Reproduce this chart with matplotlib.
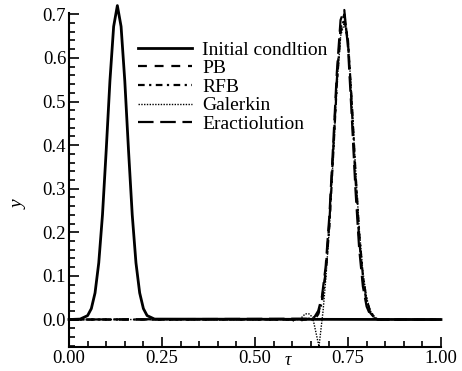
import matplotlib
matplotlib.use("Agg")
import matplotlib.pyplot as plt
from matplotlib.ticker import MultipleLocator, FormatStrFormatter

plt.rcParams['font.family'] = ['Liberation Serif', 'DejaVu Serif']

# initial condition (pulse at 0.13)
x_init = [0.0, 0.03, 0.05, 0.06, 0.07, 0.08, 0.09, 0.10, 0.11, 0.12, 0.13, 0.14,
          0.15, 0.16, 0.17, 0.18, 0.19, 0.20, 0.21, 0.23, 1.0]
y_init = [0.0, 0.001, 0.009, 0.025, 0.061, 0.130, 0.240, 0.388, 0.547, 0.672, 0.720, 0.672,
          0.547, 0.388, 0.240, 0.130, 0.061, 0.025, 0.009, 0.001, 0.0]

# exact solution (pulse moved to ~0.74)
x_exact = [0.0, 0.65, 0.66, 0.67, 0.68, 0.69, 0.70, 0.71, 0.72, 0.73, 0.74, 0.75,
           0.76, 0.77, 0.78, 0.79, 0.80, 0.81, 0.82, 0.83, 1.0]
y_exact = [0.0, 0.002, 0.006, 0.020, 0.053, 0.122, 0.239, 0.399, 0.567, 0.687, 0.710, 0.624,
           0.468, 0.299, 0.163, 0.076, 0.030, 0.010, 0.003, 0.0, 0.0]

# PB
x_pb = [0.0, 0.60, 0.61, 0.62, 0.63, 0.66, 0.67, 0.68, 0.69, 0.70, 0.71, 0.72, 0.73, 0.74,
        0.75, 0.76, 0.77, 0.78, 0.79, 0.80, 0.81, 0.82, 0.83, 1.0]
y_pb = [0.0, 0.0, -0.006, -0.004, 0.0, 0.004, 0.015, 0.045, 0.110, 0.225, 0.385, 0.550, 0.670, 0.700,
        0.635, 0.490, 0.325, 0.185, 0.090, 0.040, 0.015, 0.005, 0.0, 0.0]

# RFB
x_rfb = [0.0, 0.66, 0.67, 0.68, 0.69, 0.70, 0.71, 0.72, 0.73, 0.74, 0.75, 0.76,
         0.77, 0.78, 0.79, 0.80, 0.81, 0.82, 0.83, 1.0]
y_rfb = [0.0, 0.0, 0.012, 0.040, 0.105, 0.215, 0.375, 0.540, 0.660, 0.690, 0.640, 0.500,
         0.340, 0.200, 0.100, 0.045, 0.018, 0.006, 0.0, 0.0]

# Galerkin (with undershoot in front of the pulse)
x_gal = [0.0, 0.62, 0.635, 0.645, 0.655, 0.672, 0.683, 0.69, 0.70, 0.71, 0.72, 0.73, 0.74,
         0.75, 0.76, 0.77, 0.78, 0.79, 0.80, 0.81, 0.82, 0.83, 1.0]
y_gal = [0.0, 0.0, 0.013, 0.013, 0.005, -0.062, 0.02, 0.090, 0.210, 0.370, 0.530, 0.650, 0.680,
         0.640, 0.510, 0.350, 0.210, 0.110, 0.050, 0.020, 0.008, 0.0, 0.0]

fig = plt.figure(figsize=(4.62, 3.71), dpi=100)
ax = fig.add_axes([69 / 462, 1 - 347 / 371, 372 / 462, 334 / 371])

ax.plot(x_init, y_init, color='black', lw=2.0, ls='-', label='Initial condltion', clip_on=False)
ax.plot(x_pb, y_pb, color='black', lw=1.6, ls=(0, (4, 3.5)), label='PB', clip_on=False)
ax.plot(x_rfb, y_rfb, color='black', lw=1.6, ls=(0, (3, 2, 1, 2)), label='RFB', clip_on=False)
ax.plot(x_gal, y_gal, color='black', lw=1.0, ls=(0, (1, 1)), label='Galerkin', clip_on=False)
ax.plot(x_exact, y_exact, color='black', lw=1.6, ls=(0, (7, 3)), label='Eractiolution', clip_on=False)

ax.set_xlim(0, 1.0)
ax.set_ylim(-0.063, 0.703)
ax.spines['top'].set_visible(False)
ax.spines['right'].set_visible(False)
ax.spines['left'].set_linewidth(1.5)
ax.spines['bottom'].set_linewidth(1.5)

ax.set_xticks([0.0, 0.25, 0.5, 0.75, 1.0])
ax.set_yticks([0.0, 0.1, 0.2, 0.3, 0.4, 0.5, 0.6, 0.7])
ax.xaxis.set_minor_locator(MultipleLocator(0.05))
ax.yaxis.set_minor_locator(MultipleLocator(0.02))
ax.xaxis.set_major_formatter(FormatStrFormatter('%.2f'))
ax.yaxis.set_major_formatter(FormatStrFormatter('%.1f'))
ax.tick_params(which='both', direction='in', width=1.2, labelsize=13.5, pad=2)
ax.tick_params(which='major', length=7)
ax.tick_params(which='minor', length=4)

fig.text(19 / 462, 1 - 205 / 371, 'y', fontsize=14, style='italic', rotation=90,
         ha='center', va='center')
fig.text(288 / 462, 2 / 371, 'τ', fontsize=13, style='italic', ha='center', va='bottom')

leg = ax.legend(loc='upper left', bbox_to_anchor=(138 / 462, 1 - 41 / 371),
                bbox_transform=fig.transFigure, frameon=False, fontsize=14,
                handlelength=2.8, handletextpad=0.5, labelspacing=0.05,
                borderpad=0, borderaxespad=0)

fig.savefig('out.png', dpi=100)
